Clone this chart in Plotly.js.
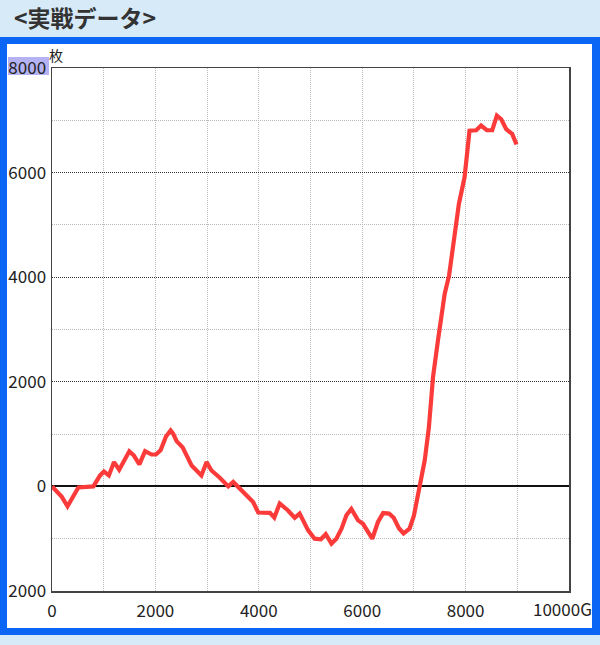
<!DOCTYPE html>
<html>
<head>
<meta charset="utf-8">
<script src="https://cdn.plot.ly/plotly-3.0.1.min.js"></script>
<style>
  html, body { margin:0; padding:0; width:600px; height:645px; background:#d6eaf8; overflow:hidden; }
  #frame { position:absolute; left:0; top:37px; width:585px; height:584px; background:#ffffff;
           border-top:7px solid #0b66f6; border-left:7px solid #0b66f6; border-right:8px solid #0b66f6; border-bottom:7px solid #0b66f6; }
  #hl { position:absolute; left:8px; top:57px; width:41px; height:18px; background:#b5b2f3; }
  #chart { position:absolute; left:0; top:0; width:600px; height:645px; }
</style>
</head>
<body>
<div id="frame"></div>
<div id="hl"></div>
<div id="chart"></div>
<script>
// Game count (G) and coin difference (枚)
const games = [0,190,300,510,800,930,1005,1100,1200,1300,1495,1585,1690,1800,1925,2010,2100,2205,2295,2345,2410,2525,2700,2890,2990,3085,3245,3410,3505,3635,3890,3990,4215,4300,4405,4565,4695,4790,4955,5080,5200,5295,5405,5500,5600,5695,5790,5920,6015,6195,6305,6405,6520,6610,6710,6800,6915,7000,7110,7210,7290,7370,7465,7595,7680,7770,7870,7980,8025,8075,8205,8300,8410,8515,8605,8690,8785,8900,8985];
const coins = [0,-200,-380,-20,0,210,285,210,465,320,670,590,420,675,610,610,690,955,1070,1005,865,750,400,210,465,305,165,0,85,-40,-300,-500,-505,-595,-325,-460,-600,-520,-840,-1000,-1010,-915,-1095,-1000,-810,-550,-430,-650,-715,-1000,-680,-510,-520,-600,-800,-900,-810,-560,0,500,1130,2090,2790,3680,4030,4700,5400,5910,6350,6800,6810,6900,6810,6810,7090,7020,6830,6740,6540];

const xTickVals = [0,2000,4000,6000,8000,10000];
const xTickText = ['0','2000','4000','6000','8000','10000G'];
const yTickVals = [-2000,0,2000,4000,6000,8000];
const yTickText = ['2000','0','2000','4000','6000','8000'];
const titleText = '&lt;実戦データ&gt;';
const unitText = '枚';

const tickFont = {family:'"Noto Sans CJK JP", "Noto Sans", sans-serif', size:17, color:'#222'};
const lastX = xTickVals.length - 1;

const trace = {
  x: games, y: coins, type:'scatter', mode:'lines',
  line:{color:'#fb3a3a', width:4.2, shape:'linear'},
  hoverinfo:'skip'
};

const layout = {
  width:600, height:645,
  margin:{l:52, r:30.5, t:67.5, b:54},
  paper_bgcolor:'rgba(0,0,0,0)',
  plot_bgcolor:'rgba(0,0,0,0)',
  showlegend:false,
  xaxis:{
    range:[0,10000], tickvals:xTickVals.slice(0,lastX), ticktext:xTickText.slice(0,lastX), ticks:'',
    tickfont:tickFont, ticklabelstandoff:4,
    showline:true, mirror:true, linecolor:'#444', linewidth:1.5,
    showgrid:true, gridcolor:'#bdbdbd', griddash:'1px,1px', gridwidth:1,
    minor:{dtick:1000, tick0:0, showgrid:true, gridcolor:'#bdbdbd', griddash:'1px,1px', gridwidth:1},
    zeroline:false, fixedrange:true
  },
  yaxis:{
    range:[-2000,8000], tickvals:yTickVals, ticktext:yTickText, ticks:'',
    tickfont:tickFont, ticklabelstandoff:1,
    showline:true, mirror:true, linecolor:'#444', linewidth:1.5,
    showgrid:true, gridcolor:'#333', griddash:'1px,1px', gridwidth:1,
    minor:{dtick:1000, tick0:0, showgrid:true, gridcolor:'#b8b8b8', griddash:'1px,1px', gridwidth:1},
    zeroline:true, zerolinecolor:'#111', zerolinewidth:2, fixedrange:true
  },
  annotations:[
    {text:titleText, xref:'paper', yref:'paper', x:-0.078, y:1.097, xanchor:'left', yanchor:'middle',
     showarrow:false, font:{family:'"Noto Sans CJK JP", sans-serif', size:23, color:'#333', weight:'bold'}},
    {text:unitText, xref:'paper', yref:'paper', x:0.008, y:1.024, xanchor:'center', yanchor:'middle',
     showarrow:false, font:{family:'"Noto Sans CJK JP", sans-serif', size:14, color:'#222'}},
    {text:xTickText[lastX], xref:'x', yref:'paper', x:xTickVals[lastX], y:0, xanchor:'center', yanchor:'top',
     xshift:-7, yshift:-3, showarrow:false, font:tickFont}
  ]
};

Plotly.newPlot('chart', [trace], layout, {displayModeBar:false, staticPlot:true});
</script>
</body>
</html>
